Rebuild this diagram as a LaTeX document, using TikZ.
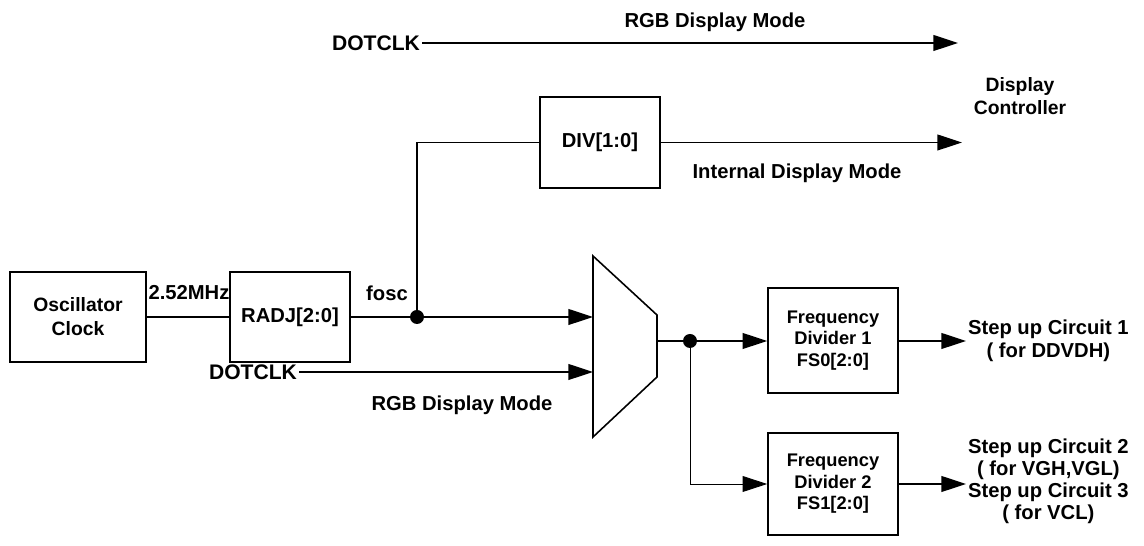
\documentclass[tikz,border=0pt]{standalone}
\usepackage{fontspec}
\setmainfont{Liberation Sans}
\usetikzlibrary{arrows.meta,positioning,calc}

\tikzset{
  blockbox/.style={draw,line width=0.9pt,align=center,inner sep=2pt},
  smalltext/.style={font=\bfseries\fontsize{10.4}{12.3}\selectfont},
  sigline/.style={line width=0.8pt},
  thinline/.style={line width=0.5pt},
  sigarrow/.style={-{Triangle[length=14pt,width=9pt]}},
  junction/.style={circle,fill,inner sep=0pt,minimum size=0.28cm},
  lbl/.style={inner sep=1pt,align=center},
}

\begin{document}
\begin{tikzpicture}[x=0.02cm,y=-0.02cm,font=\bfseries\fontsize{11.5}{13}\selectfont]
\useasboundingbox (0,0) rectangle (1144,546);

% blocks
\node[blockbox,font=\bfseries\fontsize{11}{13.7}\selectfont,minimum width=2.72cm,minimum height=1.8cm] (osc) at (78,317) {Oscillator\\Clock};
\node[blockbox,minimum width=2.4cm,minimum height=1.8cm] (radj) at (290,317) {RADJ[2:0]};
\node[blockbox,minimum width=2.4cm,minimum height=1.82cm] (div) at (600,142.5) {DIV[1:0]};
\node[blockbox,smalltext,minimum width=2.6cm,minimum height=2.1cm] (fdiv1) at (833,340.5) {Frequency\\Divider 1\\FS0[2:0]};
\node[blockbox,smalltext,minimum width=2.6cm,minimum height=2.04cm] (fdiv2) at (833,484) {Frequency\\Divider 2\\FS1[2:0]};

% selector
\coordinate (mux-in1) at (593,317);
\coordinate (mux-in2) at (593,372);
\coordinate (mux-out) at (657,341);
\draw[line width=0.9pt] (593,256) -- (657,315) -- (657,377) -- (593,437) -- cycle;

% junctions
\node[junction] (fosc) at (417,317) {};
\node[junction] (split) at (690,341) {};

% signal names
\node[lbl,anchor=east,font=\bfseries\fontsize{12}{13}\selectfont] (dotclk-top) at (422,43) {DOTCLK};
\node[lbl,anchor=east,font=\bfseries\fontsize{12}{13}\selectfont] (dotclk-low) at (299,372) {DOTCLK};
\node[lbl] (rgb-top) at (715,22) {RGB Display Mode};
\node[lbl] (rgb-low) at (462,405) {RGB Display Mode};
\node[lbl] (int-mode) at (797,173) {Internal Display Mode};
\node[lbl] (freq) at (189,293) {2.52MHz};
\node[lbl] (fosc-lbl) at (387,293) {fosc};
\node[lbl,font=\bfseries\fontsize{11}{13}\selectfont] (dispctl) at (1020,96) {Display\\Controller};
\node[lbl,anchor=west] (stepup1) at (966,341) {Step up Circuit 1\\( for DDVDH)};
\node[lbl,anchor=west,font=\bfseries\fontsize{11.5}{12.5}\selectfont] (stepup2) at (966,481) {Step up Circuit 2\\( for VGH,VGL)\\Step up Circuit 3\\( for VCL)};

\coordinate (dc-rgb) at (958,43);
\coordinate (dc-int) at (962,142.5);

% connectors
\draw[sigline,sigarrow] (dotclk-top) -- (dc-rgb);
\draw[sigline] (osc) -- (radj);
\draw[sigline] (radj) -- (fosc);
\draw[sigline] (fosc) |- (div.west);
\draw[sigline,sigarrow] (div.east) -- (dc-int);
\draw[sigline,sigarrow] (fosc) -- (mux-in1);
\draw[sigline,sigarrow] (dotclk-low) -- (mux-in2);
\draw[sigline] (mux-out) -- (split);
\draw[sigline,sigarrow] (split) -- (fdiv1.west |- split);
\draw[thinline,sigarrow] (split) |- (fdiv2.west);
\draw[sigline,sigarrow] (fdiv1.east |- split) -- (stepup1.west);
\draw[sigline,sigarrow] (fdiv2.east) -- (fdiv2.east -| stepup2.west);
\end{tikzpicture}
\end{document}
